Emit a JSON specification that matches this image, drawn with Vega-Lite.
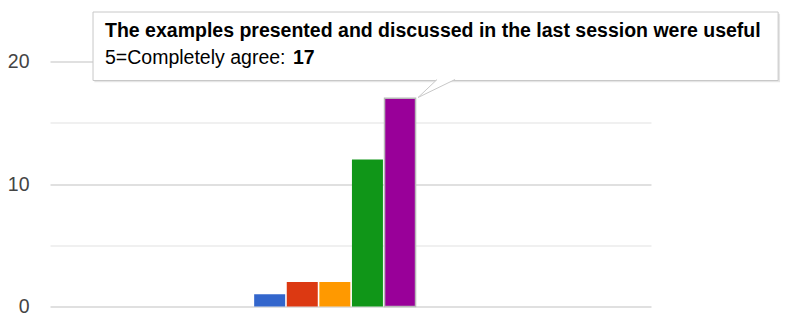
{
  "$schema": "https://vega.github.io/schema/vega-lite/v6.json",
  "width": 601,
  "height": 245,
  "autosize": "none",
  "padding": {"left": 50, "top": 61.5, "right": 134, "bottom": 9.5},
  "background": "white",
  "config": {"view": {"stroke": null}, "font": "Liberation Sans"},
  "datasets": {
    "responses": [
      {"rating": 1, "label": "1=Completely disagree", "count": 1},
      {"rating": 2, "label": "2", "count": 2},
      {"rating": 3, "label": "3", "count": 2},
      {"rating": 4, "label": "4", "count": 12},
      {"rating": 5, "label": "5=Completely agree", "count": 17}
    ],
    "question": [
      {"question": "The examples presented and discussed in the last session were useful"}
    ]
  },
  "layer": [
    {
      "data": {"name": "responses"},
      "mark": {"type": "bar", "size": 31, "strokeWidth": 1.5},
      "encoding": {
        "x": {"field": "rating", "type": "quantitative", "scale": {"domain": [-5.74, 12.7], "nice": false, "zero": false, "padding": 0}, "axis": null},
        "y": {
          "field": "count", "type": "quantitative",
          "scale": {"domain": [0, 20], "nice": false, "padding": 0},
          "axis": {
            "title": null, "values": [0, 5, 10, 15, 20], "grid": true,
            "gridColor": {"condition": {"test": "datum.value % 10 === 0", "value": "#d6d6d6"}, "value": "#ebebeb"},
            "gridWidth": 1.5,
            "domain": false, "ticks": false, "labelPadding": 21,
            "labelExpr": "datum.value % 10 === 0 ? datum.label : ''",
            "labelFont": "Liberation Sans", "labelFontSize": 19.5, "labelColor": "#444"
          }
        },
        "color": {"field": "rating", "type": "nominal", "scale": {"domain": [1, 2, 3, 4, 5], "range": ["#3366cc", "#dc3912", "#ff9900", "#109618", "#990099"]}, "legend": null},
        "stroke": {"condition": {"test": "datum.rating === 5", "value": "#b8b8b8"}, "value": null}
      }
    },
    {
      "mark": {"type": "rule", "color": "#444", "strokeWidth": 2},
      "encoding": {"y": {"datum": 0, "type": "quantitative"}}
    },
    {
      "data": {"name": "question"},
      "mark": {"type": "rect", "fill": "#000", "fillOpacity": 0.1},
      "encoding": {
        "x": {"datum": -4.38, "type": "quantitative"},
        "x2": {"datum": 16.66},
        "y": {"datum": 23.9, "type": "quantitative"},
        "y2": {"datum": 18.3}
      }
    },
    {
      "data": {"name": "question"},
      "mark": {"type": "rect", "fill": "white", "fillOpacity": 1, "stroke": "#c8c8c8", "strokeWidth": 1},
      "encoding": {
        "x": {"datum": -4.42, "type": "quantitative"},
        "x2": {"datum": 16.6},
        "y": {"datum": 24.04, "type": "quantitative"},
        "y2": {"datum": 18.45}
      }
    },
    {
      "data": {"name": "responses"},
      "transform": [{"filter": "datum.rating === 5"}],
      "mark": {"type": "point", "filled": true, "fill": "white", "stroke": "#c8c8c8", "strokeWidth": 1, "opacity": 1, "size": 12100,
        "shape": "M 0.6727 -0.3409 L 0.3273 -0.0136 L 1 -0.3409"},
      "encoding": {
        "x": {"field": "rating", "type": "quantitative"},
        "y": {"field": "count", "type": "quantitative"}
      }
    },
    {
      "data": {"name": "question"},
      "mark": {"type": "text", "align": "left", "baseline": "alphabetic", "fontSize": 19.5, "fontWeight": "bold", "color": "#000", "dx": 12},
      "encoding": {
        "x": {"datum": -4.42, "type": "quantitative"},
        "y": {"datum": 21.98, "type": "quantitative"},
        "text": {"field": "question"}
      }
    },
    {
      "data": {"name": "responses"},
      "transform": [{"filter": "datum.rating === 5"}, {"calculate": "datum.label + ':'", "as": "tip"}],
      "mark": {"type": "text", "align": "left", "baseline": "alphabetic", "fontSize": 19.5, "color": "#000", "dx": 12},
      "encoding": {
        "x": {"datum": -4.42, "type": "quantitative"},
        "y": {"datum": 19.8, "type": "quantitative"},
        "text": {"field": "tip"}
      }
    },
    {
      "data": {"name": "responses"},
      "transform": [{"filter": "datum.rating === 5"}],
      "mark": {"type": "text", "align": "left", "baseline": "alphabetic", "fontSize": 19.5, "fontWeight": "bold", "color": "#000", "dx": 200},
      "encoding": {
        "x": {"datum": -4.42, "type": "quantitative"},
        "y": {"datum": 19.8, "type": "quantitative"},
        "text": {"field": "count", "type": "quantitative"}
      }
    }
  ]
}
